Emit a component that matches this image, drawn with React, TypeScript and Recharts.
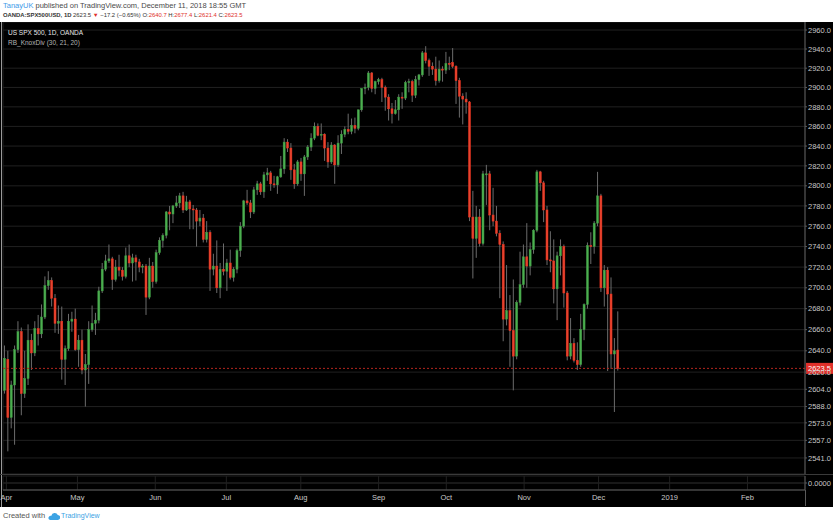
import { ComposedChart, Bar, XAxis, YAxis, CartesianGrid, ReferenceLine } from "recharts"

const FONT = "'Liberation Sans', Arial, sans-serif"

// OANDA:SPX500USD daily candles: [day, open, high, low, close]
const MAR = [[29, 2603, 2645, 2600, 2633]]
const APR = [
  [2, 2632, 2640, 2547, 2578], [3, 2578, 2612, 2568, 2608], [4, 2608, 2645, 2553, 2641],
  [5, 2641, 2668, 2638, 2658], [6, 2658, 2662, 2580, 2600], [9, 2600, 2640, 2596, 2614],
  [10, 2614, 2665, 2608, 2650], [11, 2650, 2656, 2622, 2638], [12, 2638, 2668, 2635, 2661],
  [13, 2661, 2674, 2645, 2656], [16, 2656, 2684, 2652, 2672], [17, 2672, 2711, 2670, 2702],
  [18, 2702, 2716, 2698, 2707], [19, 2707, 2710, 2682, 2690], [20, 2690, 2694, 2657, 2666],
  [23, 2666, 2683, 2656, 2668], [24, 2668, 2682, 2613, 2632], [25, 2632, 2645, 2608, 2642],
  [26, 2642, 2675, 2640, 2668], [27, 2668, 2677, 2658, 2670], [30, 2670, 2680, 2640, 2641],
]
const MAY = [
  [1, 2641, 2655, 2625, 2650], [2, 2650, 2660, 2618, 2622], [3, 2622, 2637, 2588, 2627],
  [4, 2627, 2668, 2609, 2660], [7, 2660, 2683, 2658, 2666], [8, 2666, 2676, 2655, 2669],
  [9, 2669, 2701, 2666, 2697], [10, 2697, 2724, 2695, 2718], [11, 2718, 2732, 2716, 2726],
  [14, 2726, 2742, 2724, 2728], [15, 2728, 2730, 2698, 2708], [16, 2708, 2727, 2706, 2720],
  [17, 2720, 2732, 2711, 2717], [18, 2717, 2720, 2707, 2711], [21, 2711, 2739, 2709, 2731],
  [22, 2731, 2742, 2720, 2724], [23, 2724, 2733, 2706, 2729], [24, 2729, 2732, 2707, 2725],
  [25, 2725, 2728, 2715, 2720], [28, 2720, 2723, 2714, 2721], [29, 2721, 2723, 2674, 2691],
  [30, 2691, 2729, 2689, 2721], [31, 2721, 2725, 2700, 2706],
]
const JUN = [
  [1, 2706, 2737, 2704, 2734], [4, 2734, 2749, 2732, 2746], [5, 2746, 2753, 2739, 2751],
  [6, 2751, 2775, 2748, 2774], [7, 2774, 2780, 2756, 2772], [8, 2772, 2781, 2763, 2780],
  [11, 2780, 2790, 2778, 2783], [12, 2783, 2793, 2778, 2790], [13, 2790, 2794, 2773, 2776],
  [14, 2776, 2790, 2775, 2784], [15, 2784, 2786, 2757, 2777], [18, 2777, 2781, 2757, 2776],
  [19, 2776, 2778, 2740, 2765], [20, 2765, 2776, 2760, 2768], [21, 2768, 2772, 2744, 2747],
  [22, 2747, 2765, 2744, 2754], [25, 2754, 2756, 2697, 2718], [26, 2718, 2733, 2712, 2721],
  [27, 2721, 2746, 2695, 2700], [28, 2700, 2724, 2690, 2718], [29, 2718, 2743, 2712, 2716],
]
const JUL = [
  [2, 2716, 2728, 2697, 2724], [3, 2724, 2737, 2708, 2710], [4, 2710, 2720, 2706, 2718],
  [5, 2718, 2738, 2714, 2736], [6, 2736, 2764, 2730, 2760], [9, 2760, 2786, 2758, 2785],
  [10, 2785, 2796, 2781, 2783], [11, 2783, 2786, 2768, 2774], [12, 2774, 2799, 2772, 2796],
  [13, 2796, 2805, 2791, 2802], [16, 2802, 2804, 2791, 2794], [17, 2794, 2814, 2788, 2811],
  [18, 2811, 2818, 2805, 2813], [19, 2813, 2815, 2795, 2802], [20, 2802, 2810, 2798, 2801],
  [23, 2801, 2810, 2792, 2809], [24, 2809, 2830, 2808, 2817], [25, 2817, 2848, 2812, 2844],
  [26, 2844, 2847, 2834, 2838], [27, 2838, 2843, 2806, 2816], [30, 2816, 2822, 2797, 2802],
  [31, 2802, 2826, 2800, 2824],
]
const AUG = [
  [1, 2824, 2828, 2805, 2812], [2, 2812, 2831, 2790, 2829], [3, 2829, 2841, 2826, 2839],
  [6, 2839, 2853, 2835, 2848], [7, 2848, 2864, 2846, 2860], [8, 2860, 2863, 2850, 2851],
  [9, 2851, 2863, 2846, 2852], [10, 2852, 2853, 2825, 2838], [13, 2838, 2844, 2818, 2824],
  [14, 2824, 2844, 2822, 2841], [15, 2841, 2842, 2802, 2821], [16, 2821, 2851, 2819, 2843],
  [17, 2843, 2856, 2832, 2852], [20, 2852, 2860, 2849, 2857], [21, 2857, 2873, 2852, 2855],
  [22, 2855, 2868, 2852, 2861], [23, 2861, 2869, 2853, 2858], [24, 2858, 2877, 2856, 2877],
  [27, 2877, 2899, 2875, 2899], [28, 2899, 2904, 2893, 2900], [29, 2900, 2917, 2897, 2915],
  [30, 2915, 2916, 2895, 2899], [31, 2899, 2907, 2893, 2906],
]
const SEP = [
  [3, 2906, 2910, 2903, 2908], [4, 2908, 2910, 2885, 2900], [5, 2900, 2902, 2876, 2890],
  [6, 2890, 2893, 2866, 2878], [7, 2878, 2884, 2863, 2873], [10, 2873, 2887, 2872, 2877],
  [11, 2877, 2893, 2866, 2890], [12, 2890, 2895, 2878, 2889], [13, 2889, 2907, 2887, 2905],
  [14, 2905, 2909, 2895, 2906], [17, 2906, 2908, 2885, 2892], [18, 2892, 2912, 2889, 2908],
  [19, 2908, 2914, 2902, 2913], [20, 2913, 2938, 2911, 2936], [21, 2936, 2943, 2925, 2928],
  [24, 2928, 2930, 2912, 2922], [25, 2922, 2926, 2913, 2919], [26, 2919, 2932, 2902, 2907],
  [27, 2907, 2928, 2905, 2919], [28, 2919, 2922, 2906, 2918],
]
const OCT = [
  [1, 2918, 2937, 2914, 2925], [2, 2925, 2932, 2918, 2924], [3, 2926, 2941, 2920, 2922],
  [4, 2922, 2923, 2883, 2907], [5, 2907, 2910, 2869, 2891], [8, 2891, 2894, 2862, 2888],
  [9, 2888, 2895, 2873, 2885], [10, 2885, 2886, 2765, 2769], [11, 2769, 2795, 2709, 2748],
  [12, 2748, 2780, 2729, 2769], [15, 2769, 2777, 2740, 2743], [16, 2743, 2815, 2741, 2812],
  [17, 2812, 2821, 2781, 2812], [18, 2812, 2815, 2756, 2771], [19, 2771, 2798, 2760, 2765],
  [22, 2765, 2780, 2750, 2753], [23, 2753, 2756, 2690, 2742], [24, 2742, 2745, 2649, 2670],
  [25, 2670, 2722, 2664, 2678], [26, 2678, 2693, 2625, 2659], [29, 2659, 2708, 2603, 2635],
  [30, 2635, 2688, 2632, 2686], [31, 2686, 2735, 2683, 2703],
]
const NOV = [
  [1, 2703, 2742, 2700, 2730], [2, 2730, 2763, 2700, 2721], [5, 2721, 2744, 2712, 2737],
  [6, 2737, 2757, 2733, 2756], [7, 2756, 2816, 2754, 2814], [8, 2814, 2815, 2795, 2803],
  [9, 2803, 2805, 2764, 2776], [12, 2776, 2780, 2722, 2727], [13, 2727, 2755, 2715, 2726],
  [14, 2726, 2747, 2685, 2699], [15, 2699, 2735, 2669, 2731], [16, 2731, 2747, 2712, 2740],
  [19, 2740, 2742, 2681, 2695], [20, 2695, 2697, 2631, 2635], [21, 2635, 2671, 2632, 2647],
  [22, 2647, 2652, 2629, 2631], [23, 2631, 2648, 2622, 2627], [26, 2627, 2675, 2625, 2660],
  [27, 2660, 2685, 2650, 2684], [28, 2684, 2744, 2680, 2741], [29, 2741, 2754, 2723, 2740],
  [30, 2740, 2765, 2733, 2763],
]
const DEC = [
  [3, 2763, 2814, 2760, 2790], [4, 2790, 2792, 2696, 2700], [5, 2700, 2722, 2682, 2717],
  [6, 2717, 2720, 2621, 2694], [7, 2694, 2710, 2623, 2637], [10, 2637, 2652, 2583, 2640],
  [11, 2640.7, 2677.4, 2621.4, 2623.5],
]

const MONTHS: [string, number[][]][] = [
  ["2018-03", MAR], ["2018-04", APR], ["2018-05", MAY], ["2018-06", JUN], ["2018-07", JUL],
  ["2018-08", AUG], ["2018-09", SEP], ["2018-10", OCT], ["2018-11", NOV], ["2018-12", DEC],
]

const MONTH_TICKS: [string, string][] = [
  ["2018-04-02", "Apr"], ["2018-05-01", "May"], ["2018-06-01", "Jun"], ["2018-07-02", "Jul"],
  ["2018-08-01", "Aug"], ["2018-09-03", "Sep"], ["2018-10-01", "Oct"], ["2018-11-01", "Nov"],
  ["2018-12-03", "Dec"], ["2019-01-01", "2019"], ["2019-02-01", "Feb"],
]

const PRICE_TICKS = [
  2541, 2557, 2573, 2588, 2604, 2620, 2640, 2660, 2680, 2700, 2720, 2740,
  2760, 2780, 2800, 2820, 2840, 2860, 2880, 2900, 2920, 2940, 2960,
]
const PRICE_DOMAIN = [2526.5, 2968.5]
const INDICATOR_TICKS = [0]
const LAST = 2623.5
const SLOTS = 238

const UP = "#4caf50"
const UP_EDGE = "#3f9a43"
const DOWN = "#e5452f"
const DOWN_EDGE = "#f0311f"
const WICK = "#6c6c6c"
const GRID = "#202020"
const AXIS = "#5a5a5a"
const TEXT = "#c8c8c8"
const RED = "#e0302a"

type Row = { d: string; o?: number; h?: number; l?: number; c?: number }

const pad = (n: number) => String(n).padStart(2, "0")

const rows: Row[] = []
MONTHS.forEach(([ym, days]) => {
  days.forEach(([day, o, h, l, c]) => rows.push({ d: `${ym}-${pad(day)}`, o, h, l, c }))
})
// empty weekday slots to the right of the last bar
const cursor = new Date(Date.UTC(2018, 11, 12))
while (rows.length < SLOTS) {
  const wd = cursor.getUTCDay()
  if (wd !== 0 && wd !== 6) rows.push({ d: cursor.toISOString().slice(0, 10) })
  cursor.setUTCDate(cursor.getUTCDate() + 1)
}

const TICK_DATES = MONTH_TICKS.map((t) => t[0])
const TICK_LABEL: Record<string, string> = Object.fromEntries(MONTH_TICKS)

function Candle(props: any) {
  const { x, y, width, height, payload } = props
  if (!payload || payload.o == null || !isFinite(y) || !isFinite(height)) return null
  const { o, h, l, c } = payload
  const top = Math.min(y, y + height)
  const bottom = Math.max(y, y + height)
  const span = Math.log(h) - Math.log(l)
  // log scale: place open/close between the high and low ends of the bar
  const at = (v: number) => (span > 0 ? top + ((bottom - top) * (Math.log(h) - Math.log(v))) / span : top)
  const up = c >= o
  const yo = at(o)
  const yc = at(c)
  const bt = Math.min(yo, yc)
  const bh = Math.max(1, Math.abs(yc - yo))
  const cx = x + width / 2
  return (
    <g>
      <line x1={cx} x2={cx} y1={top} y2={bottom} stroke={WICK} strokeWidth={1} />
      <rect x={x} y={bt} width={width} height={bh} fill={up ? UP : DOWN} stroke={up ? UP_EDGE : DOWN_EDGE} strokeWidth={0.5} />
    </g>
  )
}

function PriceTag(props: any) {
  const vb = props.viewBox || {}
  const x = (vb.x ?? 0) + (vb.width ?? 0)
  const y = vb.y ?? 0
  return (
    <g>
      <rect x={x + 1} y={y - 5.5} width={27} height={11} fill={RED} />
      <text x={x + 3} y={y + 2.6} fill="#fff" fontSize={7.5} fontFamily={FONT}>
        {LAST.toFixed(1)}
      </text>
    </g>
  )
}

const abs = (left: number, top: number, extra: any = {}) => ({ position: "absolute" as const, left, top, ...extra })
const red = (t: string) => <span style={{ color: RED }}>{t}</span>

export default function App() {
  return (
    <div style={{ position: "absolute", left: 0, top: 0, width: 833, height: 526, background: "#fff", fontFamily: FONT, overflow: "hidden" }}>
      <div style={abs(3, 1, { fontSize: 7.5, lineHeight: "10px", color: "#4a4a4a", whiteSpace: "nowrap" })}>
        <span style={{ color: "#3d9be9" }}>TanayUK</span> published on TradingView.com, December 11, 2018 18:55 GMT
      </div>
      <div style={abs(3, 11, { fontSize: 5.9, lineHeight: "8px", color: "#333", whiteSpace: "nowrap" })}>
        <b>OANDA:SPX500USD, 1D</b>{" 2623.5 "}{red("▼")}{" −17.2 (−0.65%) O:"}{red("2640.7")}{" H:"}{red("2677.4")}{" L:"}{red("2621.4")}{" C:"}{red("2623.5")}
      </div>

      <div style={abs(0, 22, { width: 833, height: 485, background: "#000" })} />
      <div style={abs(1, 22, { width: 1, height: 485, background: "#9a9a9a" })} />

      <div style={abs(0, 22)}>
        <ComposedChart width={833} height={452} data={rows} margin={{ top: 0, right: 0, bottom: 0, left: 3 }} barCategoryGap="14%">
          <CartesianGrid stroke={GRID} />
          <XAxis dataKey="d" ticks={TICK_DATES} interval={0} height={0} tick={false} axisLine={false} tickLine={false} />
          <YAxis
            orientation="right"
            width={28}
            scale="log"
            domain={PRICE_DOMAIN}
            allowDataOverflow
            ticks={PRICE_TICKS}
            interval={0}
            tickFormatter={(v: number) => v.toFixed(1)}
            tick={{ fill: TEXT, fontSize: 7.5, fontFamily: FONT }}
            tickSize={2}
            tickMargin={1}
            axisLine={{ stroke: AXIS }}
            tickLine={{ stroke: AXIS }}
          />
          <Bar dataKey={(r: Row) => (r.o == null ? null : [r.l, r.h])} shape={<Candle />} isAnimationActive={false} />
          <ReferenceLine y={LAST} stroke="#b3261e" strokeDasharray="2 2" label={<PriceTag />} />
        </ComposedChart>
      </div>

      <div style={abs(8, 28, { fontSize: 6.5, lineHeight: "9px", color: "#e6e6e6", whiteSpace: "nowrap" })}>US SPX 500, 1D, OANDA</div>
      <div style={abs(8, 38, { fontSize: 6.5, lineHeight: "9px", color: "#b4b4b4", whiteSpace: "nowrap" })}>RB_KnoxDiv (30, 21, 20)</div>

      <div style={abs(0, 474, { width: 833, height: 1, background: "#3a3a3a" })} />
      <div style={abs(0, 475)}>
        <ComposedChart width={833} height={32} data={rows} margin={{ top: 1, right: 0, bottom: 0, left: 3 }}>
          <CartesianGrid stroke={GRID} />
          <XAxis
            dataKey="d"
            ticks={TICK_DATES}
            interval={0}
            height={17}
            tickFormatter={(d: string) => TICK_LABEL[d] ?? ""}
            tick={{ fill: TEXT, fontSize: 7.5, fontFamily: FONT }}
            tickSize={0}
            tickMargin={5}
            axisLine={{ stroke: AXIS }}
            tickLine={false}
          />
          <YAxis
            type="number"
            orientation="right"
            width={28}
            domain={[-1, 1]}
            allowDataOverflow
            ticks={INDICATOR_TICKS}
            interval={0}
            tickFormatter={(v: number) => v.toFixed(4)}
            tick={{ fill: TEXT, fontSize: 7.5, fontFamily: FONT }}
            tickSize={2}
            tickMargin={1}
            axisLine={{ stroke: AXIS }}
            tickLine={{ stroke: AXIS }}
          />
          <ReferenceLine y={0} stroke={GRID} />
        </ComposedChart>
      </div>
      <div style={abs(805, 490, { width: 1, height: 16, background: AXIS })} />

      <div style={abs(3, 511, { fontSize: 7.5, lineHeight: "10px", color: "#555", whiteSpace: "nowrap", display: "flex", alignItems: "center" })}>
        <span>Created with</span>
        <svg width={13} height={9} style={{ margin: "0 1px 0 2px" }}>
          <path d="M3 8 h7.5 a2.5 2.5 0 0 0 0.3-5 a3.4 3.4 0 0 0-6.4 0.8 a2.1 2.1 0 0 0-1.4 4.2z" fill="#3ca3e4" />
        </svg>
        <span style={{ color: "#3ca3e4", fontSize: 7 }}>TradingView</span>
      </div>
    </div>
  )
}
